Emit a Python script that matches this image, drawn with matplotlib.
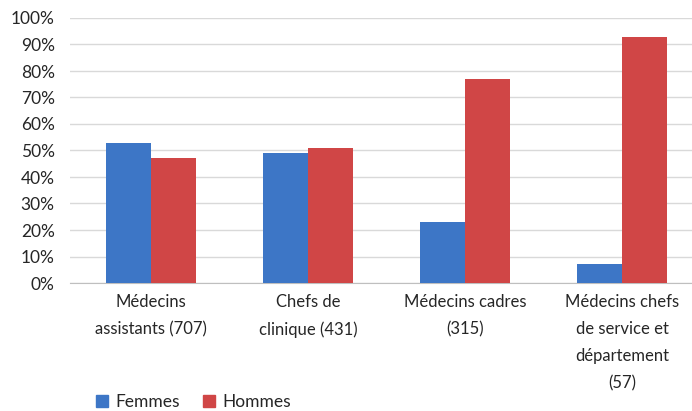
import numpy as np, matplotlib
matplotlib.use("Agg"); import matplotlib.pyplot as plt
from matplotlib.ticker import PercentFormatter
from matplotlib.patches import Patch
plt.rcParams.update({"font.family":["Lato","DejaVu Sans"],"font.size":12})

cats=["Médecins\nassistants (707)","Chefs de\nclinique (431)","Médecins cadres\n(315)","Médecins chefs\nde service et\ndépartement\n(57)"]
femmes=[53,49,23,7]
hommes=[47,51,77,93]
c_f="#3d76c6"; c_h="#d04646"

fig=plt.figure(figsize=(6.92,4.11),dpi=100)
ax=fig.add_axes([70/692,1-283/411,1-70/692,265/411])
x=np.arange(len(cats)); w=0.287
ax.bar(x-w/2,np.array(femmes)/100,w,color=c_f,zorder=3)
ax.bar(x+w/2,np.array(hommes)/100,w,color=c_h,zorder=3)
ax.set_ylim(0,1); ax.set_xlim(-0.516,3.446)
ax.set_yticks(np.arange(0,1.01,0.1))
ax.yaxis.set_major_formatter(PercentFormatter(1.0,decimals=0))
ax.grid(axis="y",color="#d9d9d9",lw=1,zorder=0); ax.grid(axis="x",visible=False)
for s in ["top","right","left"]: ax.spines[s].set_visible(False)
ax.spines["bottom"].set_color("#bfbfbf")
ax.tick_params(length=0,colors="#262626")
ax.tick_params(axis="y",pad=11,labelsize=12.5)
ax.set_xticks(x); ax.set_xticklabels(cats,linespacing=1.85,va="top",fontsize=12)
ax.tick_params(axis="x",pad=8)
fig.legend(handles=[Patch(color=c_f,label="Femmes"),Patch(color=c_h,label="Hommes")],
           loc="lower left",bbox_to_anchor=(80/692,-0.035),ncol=2,frameon=False,
           handlelength=0.7,handleheight=0.7,handletextpad=0.45,columnspacing=1.3,fontsize=12.5,
           labelcolor="#262626")
fig.savefig("out.png",dpi=100)
